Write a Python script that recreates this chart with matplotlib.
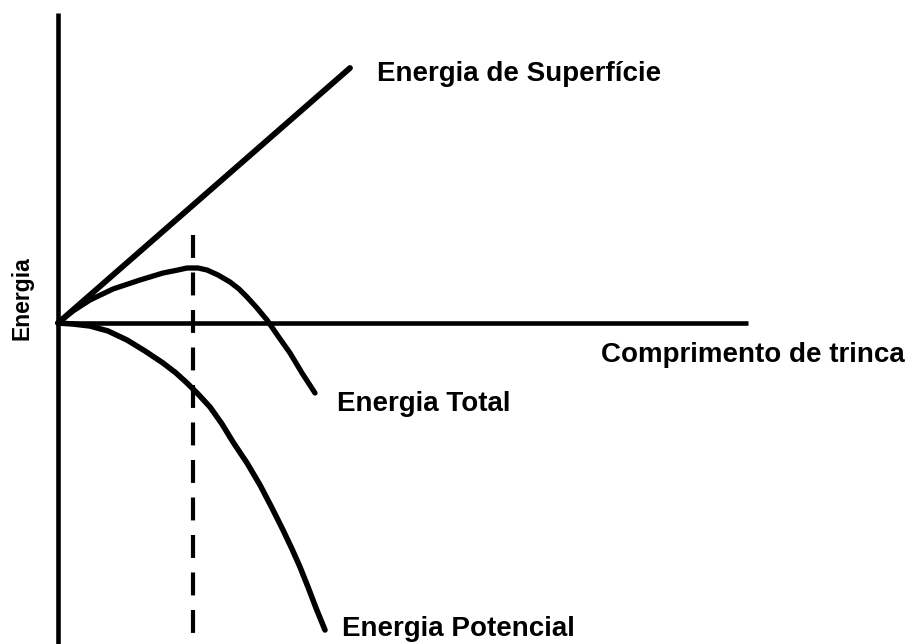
import numpy as np
import matplotlib.pyplot as plt

# Schematic data (arbitrary units, origin at crack length 0 / energy 0)
surf_x = [0, 292]
surf_y = [0, 255]

total_x = [0, 15, 32, 55, 82, 105, 120, 129, 140, 149, 160, 172, 181, 189, 199, 209, 220, 232, 244, 257]
total_y = [0, 12, 23, 34, 43, 50, 53, 55, 55, 53, 48, 41, 34, 26, 15, 3, -13, -30, -50, -70]

pot_x = [0, 15, 32, 50, 69, 87, 105, 118, 129, 140, 152, 164, 175, 189, 202, 214, 225, 234, 242, 250, 258, 267]
pot_y = [0, -1, -3, -8, -17, -28, -40, -50, -60, -71, -84, -101, -119, -140, -162, -185, -207, -226, -244, -264, -285, -307]

crit_x = 135  # crack length at peak of total energy

fig = plt.figure(figsize=(9.12, 6.44), dpi=100)
ax = fig.add_axes([0, 0, 1, 1])
ax.set_xlim(-58, 854)
ax.set_ylim(-321, 323)

# axes drawn as lines through the origin
ax.plot([0, 0], [-321, 310], color='black', lw=3.3, solid_capstyle='butt')
ax.plot([0, 690], [0, 0], color='black', lw=3.3, solid_capstyle='butt')

ax.plot(surf_x, surf_y, color='black', lw=4.2, solid_capstyle='round')
ax.plot(total_x, total_y, color='black', lw=3.8, solid_capstyle='round',
        solid_joinstyle='round')
ax.plot(pot_x, pot_y, color='black', lw=4.0, solid_capstyle='round',
        solid_joinstyle='round')
ax.plot([crit_x, crit_x], [88, -321], color='black', lw=3.0,
        dashes=(5.5, 3.5))

font = dict(family='Liberation Sans', weight='bold', fontsize=20, color='black')
ax.text(319, 249, 'Energia de Superfície', va='center', ha='left', **font)
ax.text(279, -81, 'Energia Total', va='center', ha='left', **font)
ax.text(284, -306, 'Energia Potencial', va='center', ha='left', **font)
ax.text(543, -32, 'Comprimento de trinca', va='center', ha='left', **font)
ax.text(-36, 25, 'Energia', va='center', ha='center', rotation=90,
        family='Liberation Sans', weight='bold', fontsize=16.5, color='black')

ax.axis('off')
fig.savefig('out.png', dpi=100)
